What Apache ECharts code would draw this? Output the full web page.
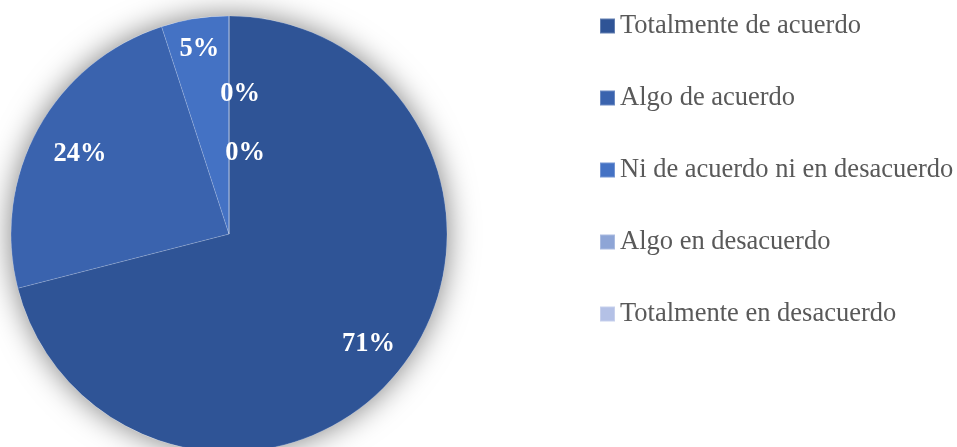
<!DOCTYPE html>
<html>
<head>
<meta charset="utf-8">
<script src="https://cdn.jsdelivr.net/npm/echarts@6/dist/echarts.min.js"></script>
<style>
  html, body { margin: 0; padding: 0; background: #fff; }
  #main { width: 957px; height: 447px; }
</style>
</head>
<body>
<div id="main"></div>
<script>
// categories and values (percent)
var categories = ['Totalmente de acuerdo', 'Algo de acuerdo', 'Ni de acuerdo ni en desacuerdo', 'Algo en desacuerdo', 'Totalmente en desacuerdo'];
var values = [71, 24, 5, 0, 0];
var colors = ['#2F5496', '#3A63AE', '#4472C4', '#8EA5D6', '#B4C1E6'];

var cx = 229, cy = 234, R = 218;
// label distance (fraction of radius) per slice, like the original
var labelDist = [0.81, 0.78, 0.87, 0.65, 0.38];
var zeroShift = [0, 0, 0, 11, 16];

var myChart = echarts.init(document.getElementById('main'));

var pieData = [];
for (var i = 0; i < categories.length; i++) {
  pieData.push({ name: categories[i], value: values[i], itemStyle: { color: colors[i] } });
}

// middle angle of each slice, clockwise from 12 o'clock
function midAngle(idx) {
  var total = 0, before = 0;
  for (var k = 0; k < values.length; k++) {
    total += values[k];
    if (k < idx) before += values[k];
  }
  return (before + values[idx] / 2) / total * Math.PI * 2;
}

var option = {
  animation: false,
  legend: {
    orient: 'vertical',
    left: 599,
    top: 12,
    padding: 0,
    icon: 'rect',
    itemWidth: 15,
    itemHeight: 15,
    itemGap: 44,
    data: categories,
    textStyle: {
      fontFamily: 'Liberation Serif',
      fontSize: 26.5,
      lineHeight: 28,
      color: '#595959'
    }
  },
  series: [
    {
      // shadow behind the pie
      type: 'pie',
      silent: true,
      center: [cx, cy],
      radius: R,
      z: 1,
      label: { show: false },
      labelLine: { show: false },
      data: [{ name: 'bg', value: 1 }],
      itemStyle: {
        color: '#ffffff',
        shadowBlur: 30,
        shadowColor: 'rgba(0,0,0,0.5)'
      }
    },
    {
      type: 'pie',
      center: [cx, cy],
      radius: R,
      startAngle: 90,
      clockwise: true,
      z: 2,
      itemStyle: {
        borderColor: 'rgba(255,255,255,0.25)',
        borderWidth: 0.6
      },
      label: {
        show: true,
        position: 'inside',
        formatter: '{c}%',
        color: '#ffffff',
        fontFamily: 'Liberation Serif',
        fontWeight: 'bold',
        fontSize: 26.5
      },
      labelLine: { show: false },
      labelLayout: function (params) {
        var idx = params.dataIndex;
        var a = midAngle(idx);
        var d = labelDist[idx] * R;
        return {
          x: cx + d * Math.sin(a) + zeroShift[idx],
          y: cy - d * Math.cos(a) + 2,
          align: 'center',
          verticalAlign: 'middle'
        };
      },
      data: pieData
    }
  ]
};
myChart.setOption(option);
</script>
</body>
</html>
